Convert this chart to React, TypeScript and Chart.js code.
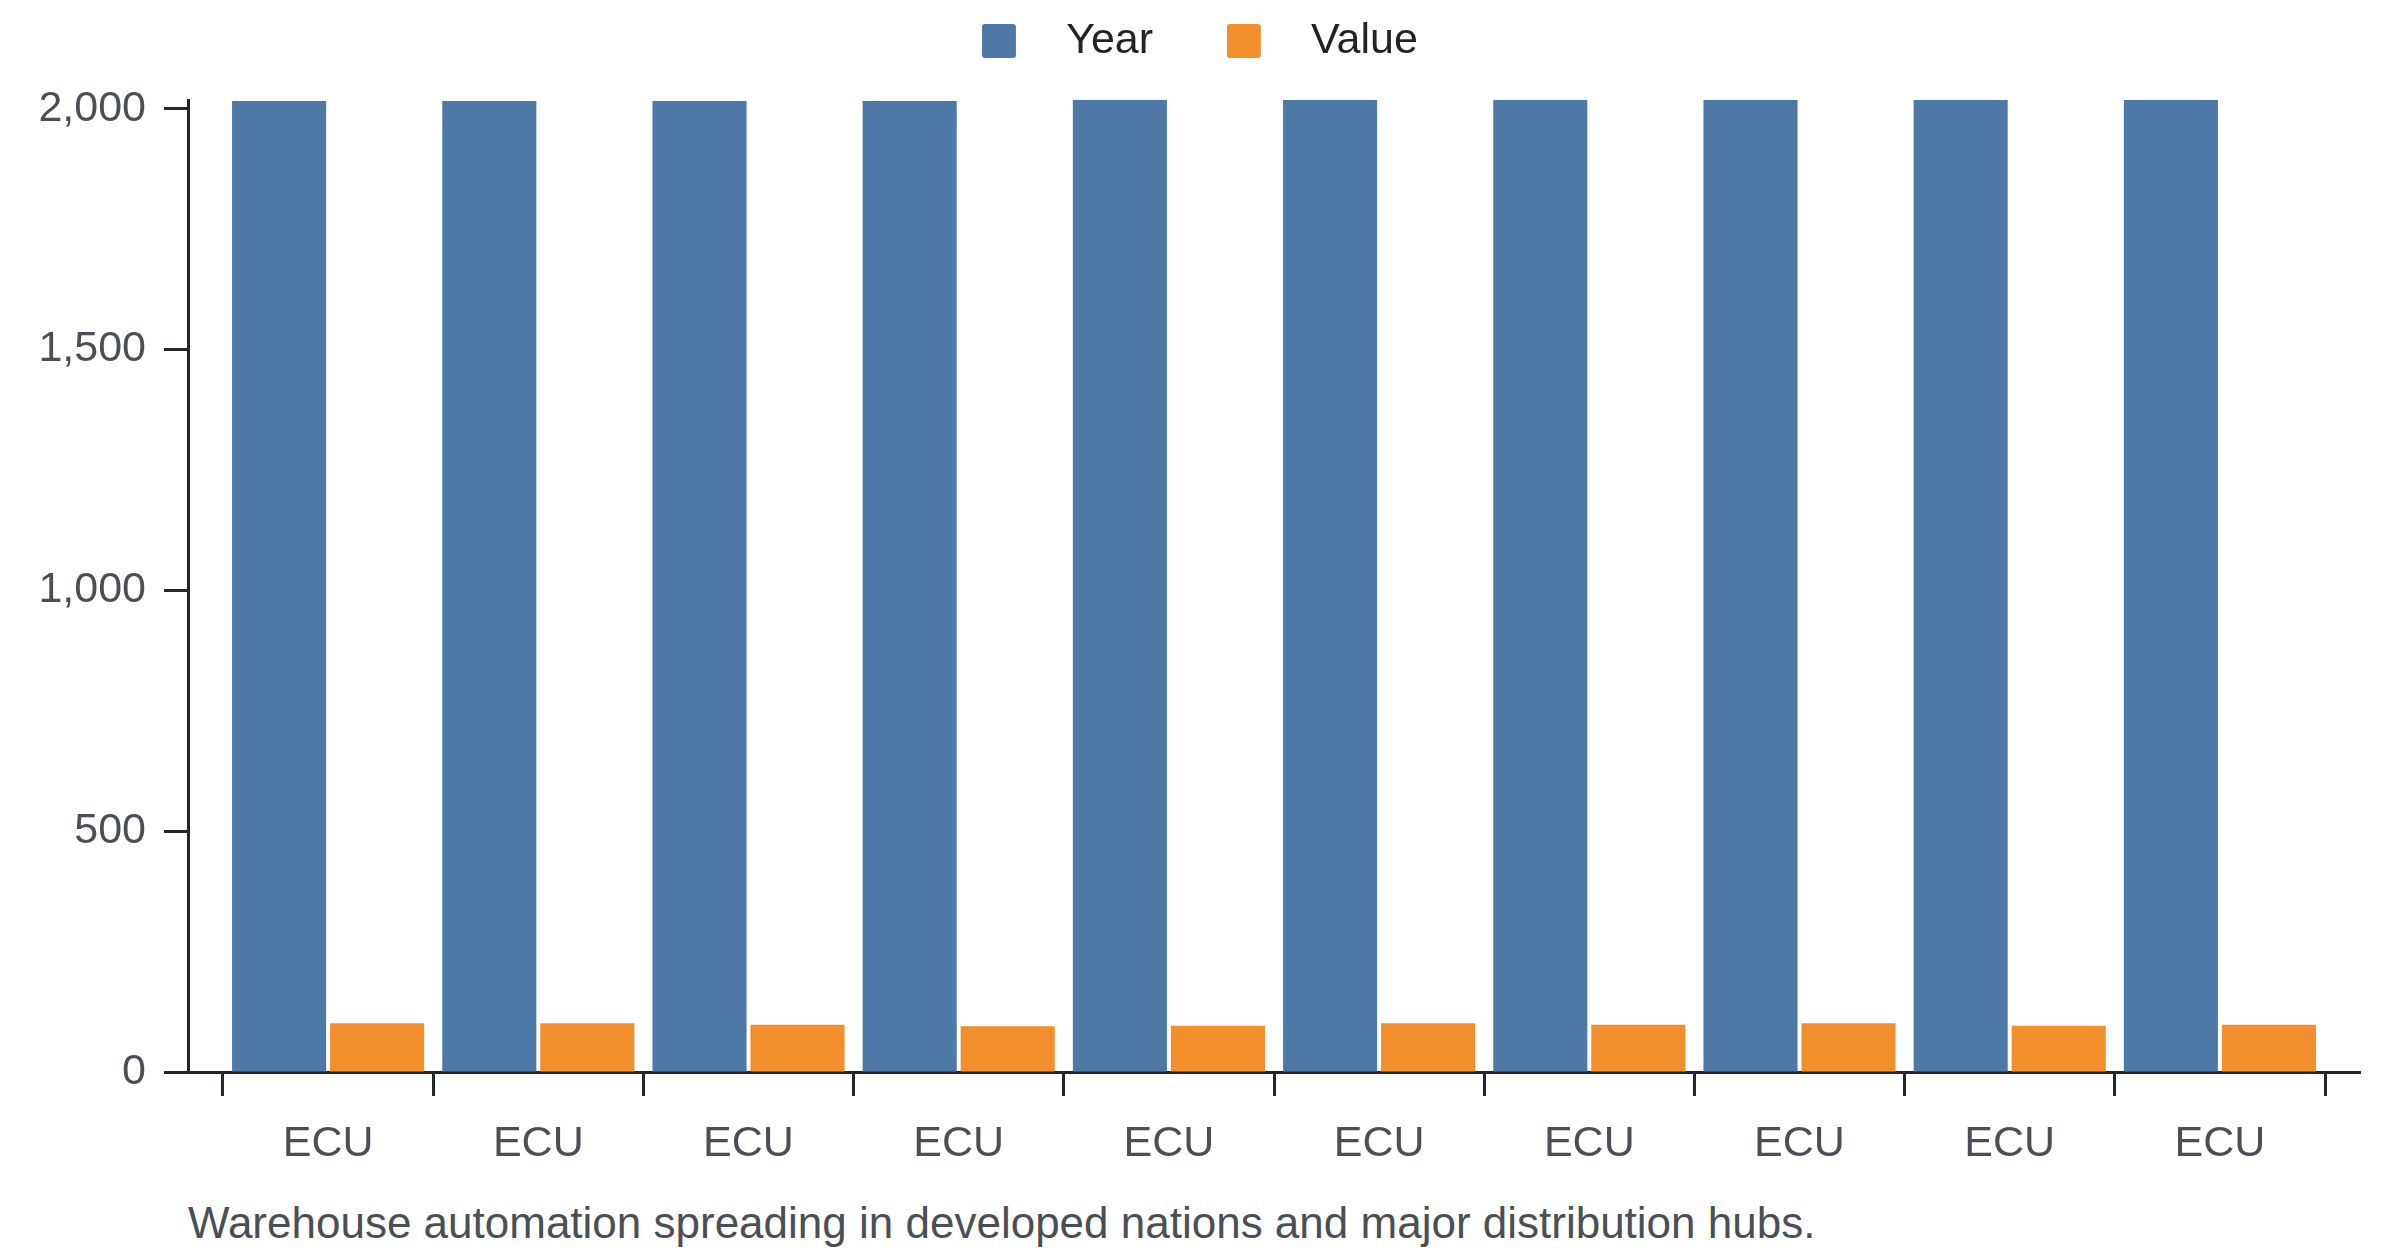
import React, { useEffect, useRef } from 'react';
import { Chart, registerables } from 'chart.js';

Chart.register(...registerables);

const categories = ['ECU', 'ECU', 'ECU', 'ECU', 'ECU', 'ECU', 'ECU', 'ECU', 'ECU', 'ECU'];
const seriesNames = ['Year', 'Value'];
const yearValues = [2016, 2016, 2016, 2016, 2018, 2018, 2018, 2018, 2018, 2018];
const valueValues = [101, 101, 98, 95, 96, 101, 98, 101, 96, 98];
const yTickValues = [0, 500, 1000, 1500, 2000];
const caption = 'Warehouse automation spreading in developed nations and major distribution hubs.';

const FONT = "'Liberation Sans', Arial, Helvetica, sans-serif";
const BLUE = '#4e79a7';
const ORANGE = '#f28e2b';
const AXIS = '#23272b';
const TICK_TEXT = '#4a4f56';
const LEGEND_TEXT = '#1f2328';
const LEGEND_TOP = -62.5;

function makeMarker(color: string) {
  const c = document.createElement('canvas');
  c.width = 63;
  c.height = 34;
  const g = c.getContext('2d')!;
  g.fillStyle = color;
  g.beginPath();
  if ((g as any).roundRect) (g as any).roundRect(0, 0, 34, 34, 3);
  else g.rect(0, 0, 34, 34);
  g.fill();
  return c;
}

const legendSpacer = {
  id: 'legendSpacer',
  beforeInit(chart: any) {
    const legend = chart.legend;
    if (!legend) return;
    const orig = legend.fit;
    legend.fit = function () {
      orig.call(legend);
      legend.height = 92 - LEGEND_TOP;
    };
  },
};

export default function App() {
  const ref = useRef<HTMLCanvasElement>(null);

  useEffect(() => {
    if (!ref.current) return;
    const markers = [makeMarker(BLUE), makeMarker(ORANGE)];
    const font = { family: FONT, size: 43 };
    const chart = new Chart(ref.current, {
      type: 'bar',
      data: {
        datasets: [
          {
            label: seriesNames[0],
            data: yearValues.map((v, i) => ({ x: i, y: v })),
            backgroundColor: BLUE,
            borderWidth: 0,
            categoryPercentage: 0.9325,
            barPercentage: 0.96,
          },
          {
            label: seriesNames[1],
            data: valueValues.map((v, i) => ({ x: i, y: v })),
            backgroundColor: ORANGE,
            borderWidth: 0,
            categoryPercentage: 0.9325,
            barPercentage: 0.96,
          },
        ],
      },
      options: {
        animation: false,
        responsive: true,
        maintainAspectRatio: false,
        layout: { padding: { top: LEGEND_TOP, left: 32, right: 32, bottom: 0 } },
        plugins: {
          legend: {
            display: true,
            position: 'top',
            align: 'center',
            labels: {
              usePointStyle: true,
              pointStyleWidth: 62.5,
              padding: 74,
              color: LEGEND_TEXT,
              font,
              generateLabels: (c: any) => {
                const items = (Chart.defaults.plugins.legend.labels as any).generateLabels(c);
                return items.map((it: any, i: number) => ({ ...it, pointStyle: markers[i] }));
              },
            },
          },
          tooltip: { enabled: false },
        },
        scales: {
          x: {
            type: 'linear',
            min: -0.6665,
            max: categories.length - 1 + 0.6665,
            offset: false,
            z: 1,
            afterBuildTicks: (s: any) => {
              s.ticks = categories.map((_, i) => ({ value: i }));
            },
            afterFit: (s: any) => {
              s.height = 100;
            },
            ticks: {
              autoSkip: false,
              maxRotation: 0,
              minRotation: 0,
              padding: 22,
              color: TICK_TEXT,
              font,
              callback: (v: any) => categories[v] ?? '',
            },
            grid: {
              offset: true,
              drawOnChartArea: false,
              drawTicks: true,
              tickLength: 24,
              tickWidth: 3,
              tickColor: AXIS,
            },
            border: { display: true, color: AXIS, width: 3 },
          },
          y: {
            type: 'linear',
            min: 0,
            max: Math.max(...yearValues),
            z: 1,
            afterBuildTicks: (s: any) => {
              s.ticks = yTickValues.map((v) => ({ value: v }));
            },
            afterFit: (s: any) => {
              s.width = 148;
            },
            ticks: {
              padding: 18,
              color: TICK_TEXT,
              font,
              callback: (v: any) => Number(v).toLocaleString('en-US'),
            },
            grid: {
              drawOnChartArea: false,
              drawTicks: true,
              tickLength: 24,
              tickWidth: 3,
              tickColor: AXIS,
            },
            border: { display: true, color: AXIS, width: 3 },
          },
        },
      } as any,
      plugins: [legendSpacer],
    });
    return () => chart.destroy();
  }, []);

  return (
    <div style={{ fontFamily: FONT }}>
      <div style={{ position: 'relative', width: '100%', height: 1164 }}>
        <canvas ref={ref} />
      </div>
      <div
        style={{
          marginLeft: 180,
          marginTop: 26,
          fontSize: 44,
          lineHeight: '49px',
          color: TICK_TEXT,
          whiteSpace: 'nowrap',
        }}
      >
        {caption}
      </div>
    </div>
  );
}
